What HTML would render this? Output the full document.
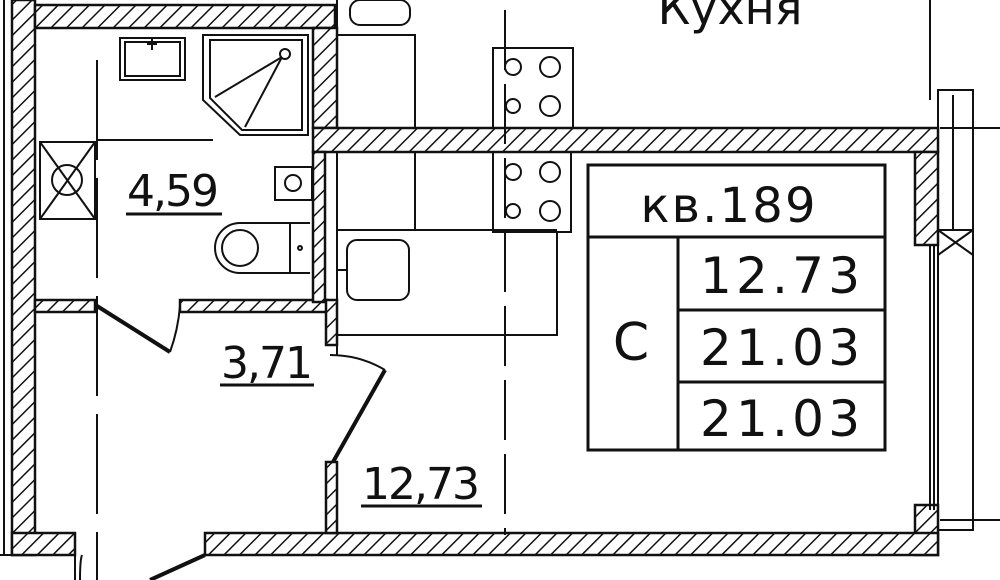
<!DOCTYPE html>
<html><head><meta charset="utf-8"><style>
html,body{margin:0;padding:0;background:#fff}
svg{display:block}
text{font-family:"DejaVu Sans","Liberation Sans",sans-serif;fill:#111}
</style></head><body>
<svg width="1000" height="580" viewBox="0 0 1000 580" xmlns="http://www.w3.org/2000/svg">
<defs>
<pattern id="h" width="11" height="11" patternUnits="userSpaceOnUse" patternTransform="rotate(45)">
<rect width="11" height="11" fill="#fff"/><line x1="0" y1="0" x2="0" y2="11" stroke="#111" stroke-width="3"/>
</pattern>
</defs>
<g stroke="#111" stroke-width="2.5" fill="url(#h)">
<!-- left outer wall -->
<rect x="12" y="0" width="23" height="555"/>
<!-- top bathroom wall -->
<rect x="35" y="5" width="300" height="23"/>
<!-- bathroom right wall -->
<rect x="313" y="28" width="24" height="100"/>
<!-- horizontal wall -->
<rect x="313" y="128" width="625" height="24"/>
<!-- right wall upper -->
<rect x="915" y="152" width="23" height="93"/>
<rect x="915" y="505" width="23" height="50"/>
<!-- bottom wall -->
<rect x="205" y="533" width="733" height="22"/>
<rect x="12" y="533" width="63" height="22"/>
<!-- hall walls -->
<rect x="35" y="300" width="60" height="12"/>
<rect x="180" y="300" width="147" height="12"/>
<!-- vertical partitions -->
<rect x="313" y="152" width="12" height="150"/>
<rect x="326" y="300" width="11" height="45"/>
<rect x="326" y="462" width="11" height="71"/>
</g>
<g stroke="#111" stroke-width="2" fill="none">
<!-- far left double line -->
<line x1="4" y1="0" x2="4" y2="555"/>
<line x1="0" y1="555" x2="75" y2="555"/>
<!-- right window -->
<rect x="938" y="90" width="35" height="140"/>
<rect x="938" y="230" width="35" height="300"/>
<line x1="930" y1="0" x2="930" y2="100"/>
<line x1="930" y1="245" x2="930" y2="510"/>
<line x1="934" y1="245" x2="934" y2="510"/>
<line x1="953" y1="95" x2="953" y2="230"/>
<line x1="940" y1="128" x2="1000" y2="128"/>
<line x1="940" y1="520" x2="1000" y2="520"/>
<path d="M940 90 L973 90 M938 230 L973 255 M938 255 L973 230"/>
<!-- dashed axis lines -->
<line x1="97" y1="60" x2="97" y2="580" stroke-dasharray="100,18"/>
<line x1="505" y1="10" x2="505" y2="535" stroke-dasharray="60,14"/>
<!-- bathroom fixtures -->
<rect x="120" y="38" width="65" height="42"/><rect x="125" y="42" width="55" height="34"/>
<line x1="152" y1="38" x2="152" y2="50"/><line x1="147" y1="44" x2="157" y2="44"/>
<path d="M203 35 L308 35 L308 135 L240 135 L203 100 Z"/>
<path d="M210 40 L302 40 L302 130 L242 130 L210 98 Z"/>
<circle cx="285" cy="54" r="5"/>
<line x1="282" y1="57" x2="215" y2="97"/><line x1="282" y1="57" x2="245" y2="127"/>
<line x1="97" y1="140" x2="213" y2="140"/>
<rect x="40" y="142" width="55" height="77"/>
<circle cx="67" cy="180" r="15"/>
<line x1="40" y1="142" x2="95" y2="219"/><line x1="95" y1="142" x2="40" y2="219"/>
<rect x="275" y="167" width="37" height="33"/><circle cx="293" cy="183" r="8"/>
<path d="M290 223 L240 223 A25 25 0 0 0 240 273 L290 273 Z"/>
<circle cx="240" cy="248" r="18"/>
<line x1="290" y1="223" x2="290" y2="273"/><line x1="288" y1="223" x2="310" y2="223"/><line x1="288" y1="273" x2="310" y2="273"/>
<circle cx="300" cy="248" r="2"/>
<!-- doors -->
<line x1="97" y1="306" x2="170" y2="352" stroke-width="4"/>
<path d="M170 352 Q178 330 180 306"/>
<path d="M330 355 Q360 355 385 370"/>
<line x1="385" y1="370" x2="333" y2="462" stroke-width="4"/>
<line x1="75" y1="555" x2="75" y2="580"/>
<path d="M80 580 Q80 560 82 555"/>
<line x1="205" y1="555" x2="150" y2="580" stroke-width="4"/>
<!-- kitchen -->
<path d="M337 0 L337 128"/>
<path d="M337 35 L415 35 L415 128"/>
<rect x="350" y="0" width="60" height="25" rx="10"/>
<rect x="493" y="48" width="80" height="80"/>
<circle cx="513" cy="67" r="8"/><circle cx="550" cy="67" r="10"/>
<circle cx="513" cy="106" r="7"/><circle cx="550" cy="106" r="10"/>
<rect x="493" y="152" width="78" height="80"/>
<circle cx="513" cy="172" r="8"/><circle cx="550" cy="172" r="10"/>
<circle cx="513" cy="211" r="7"/><circle cx="550" cy="211" r="10"/>
<path d="M337 152 L337 335 L557 335 L557 232"/>
<line x1="415" y1="152" x2="415" y2="230"/>
<line x1="337" y1="230" x2="557" y2="230"/>
<rect x="347" y="240" width="62" height="60" rx="10"/>
<line x1="337" y1="270" x2="347" y2="270"/>
<line x1="337" y1="345" x2="337" y2="355"/>
<!-- table -->
<rect x="588" y="165" width="297" height="285" stroke-width="3"/>
<line x1="588" y1="237" x2="885" y2="237" stroke-width="3"/>
<line x1="678" y1="237" x2="678" y2="450" stroke-width="3"/>
<line x1="678" y1="310" x2="885" y2="310" stroke-width="3"/>
<line x1="678" y1="382" x2="885" y2="382" stroke-width="3"/>
<!-- underlines -->
<line x1="126" y1="214" x2="222" y2="214" stroke-width="3"/>
<line x1="220" y1="385" x2="314" y2="385" stroke-width="3"/>
<line x1="361" y1="506" x2="482" y2="506" stroke-width="3"/>
</g>
<text x="730" y="24" font-size="46" text-anchor="middle">Кухня</text>
<text x="173" y="206" font-size="44" text-anchor="middle" textLength="92">4,59</text>
<text x="267" y="378" font-size="44" text-anchor="middle" textLength="92">3,71</text>
<text x="421" y="499" font-size="44" text-anchor="middle" textLength="118">12,73</text>
<text x="728" y="222" font-size="48" text-anchor="middle" textLength="175">кв.189</text>
<text x="631" y="360" font-size="52" text-anchor="middle">С</text>
<text x="780" y="293" font-size="50" text-anchor="middle" textLength="160">12.73</text>
<text x="780" y="365" font-size="50" text-anchor="middle" textLength="160">21.03</text>
<text x="780" y="436" font-size="50" text-anchor="middle" textLength="160">21.03</text>
</svg>
</body></html>
